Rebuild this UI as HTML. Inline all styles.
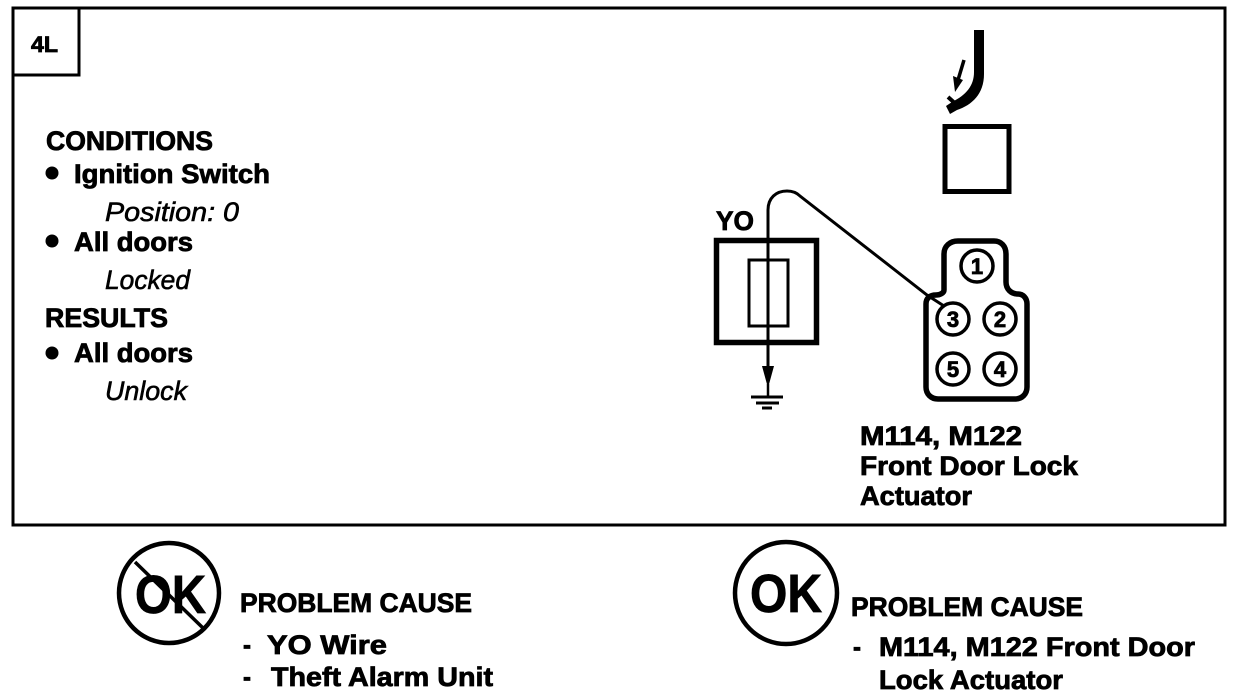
<!DOCTYPE html>
<html><head><meta charset="utf-8"><style>
html,body{margin:0;padding:0;background:#fff;width:1248px;height:696px;overflow:hidden}
svg{display:block}
text{font-family:"Liberation Sans",sans-serif;font-weight:bold;fill:#000;stroke:#000;stroke-width:.8}
.i{font-style:italic;font-weight:normal;stroke-width:.6}
.f{fill:none;stroke:#000}
</style></head><body>
<svg width="1248" height="696" viewBox="0 0 1248 696" xmlns="http://www.w3.org/2000/svg">
<rect width="1248" height="696" fill="#fff"/>
<rect class="f" x="13" y="8" width="1212" height="517" stroke-width="3"/>
<rect class="f" x="13" y="8" width="66" height="67" stroke-width="3"/>
<text x="31" y="52" font-size="22" textLength="27" lengthAdjust="spacingAndGlyphs">4L</text>

<g font-size="27">
<text x="46" y="150" textLength="167" lengthAdjust="spacingAndGlyphs">CONDITIONS</text>
<circle cx="52" cy="173" r="6.500"/>
<text x="74" y="183" textLength="196" lengthAdjust="spacingAndGlyphs">Ignition  Switch</text>
<text class="i" x="105" y="221" textLength="134" lengthAdjust="spacingAndGlyphs">Position: 0</text>
<circle cx="52" cy="241" r="6.500"/>
<text x="74" y="251" textLength="119" lengthAdjust="spacingAndGlyphs">All doors</text>
<text class="i" x="105" y="289" textLength="85" lengthAdjust="spacingAndGlyphs">Locked</text>
<text x="45" y="327" textLength="123" lengthAdjust="spacingAndGlyphs">RESULTS</text>
<circle cx="52" cy="353" r="6.500"/>
<text x="74" y="362" textLength="119" lengthAdjust="spacingAndGlyphs">All doors</text>
<text class="i" x="105" y="400" textLength="82" lengthAdjust="spacingAndGlyphs">Unlock</text>
</g>

<!-- J arrow -->
<path d="M974 30H984V74C984 94 972 105 957 110L950 114L946 106L952 102C966 95 974 86 974 72Z"/>
<path d="M948 97L958 106" class="f" stroke-width="4"/>
<path class="f" d="M964 60L958 80" stroke-width="3.500"/>
<path d="M953 76L963 80L955 92Z"/>
<rect class="f" x="945" y="126.500" width="64" height="65" stroke-width="5"/>

<!-- YO -->
<text x="716" y="230" font-size="27" textLength="38" lengthAdjust="spacingAndGlyphs">YO</text>
<rect class="f" x="716.500" y="240.500" width="100" height="102" stroke-width="5.500"/>
<rect class="f" x="749" y="260" width="39" height="66" stroke-width="3"/>
<path class="f" d="M768 372V210C768 198 776 191 787 191C792 191 796 192 800 196L927 295L944 306" stroke-width="3"/>
<path d="M762 366H774L768 388Z"/>
<path class="f" d="M768 384V397" stroke-width="2.500"/>
<path class="f" d="M751 397H783M756 403H779M762 408H772" stroke-width="3"/>

<!-- connector -->
<path class="f" d="M944 290V254C944 246 950 241 958 241H994C1001 241 1006 246 1006 254V282C1006 289 1011 294 1018 294C1023 294 1027 298 1027 304V387C1027 394 1022 399 1015 399H938C931 399 926 394 926 387V304C926 298 930 295 936 295C940 295 944 293 944 290Z" stroke-width="5.500"/>
<g class="f" stroke-width="3.500" fill="#fff">
<circle cx="977" cy="266" r="16"/>
<circle cx="953" cy="319" r="16"/>
<circle cx="1000" cy="319" r="16"/>
<circle cx="953" cy="369" r="16"/>
<circle cx="1000" cy="369" r="16"/>
</g>
<g font-size="22" text-anchor="middle">
<text x="977" y="274">1</text>
<text x="953" y="327">3</text>
<text x="1000" y="327">2</text>
<text x="953" y="377">5</text>
<text x="1000" y="377">4</text>
</g>

<g font-size="27">
<text x="860" y="445" textLength="162" lengthAdjust="spacingAndGlyphs">M114, M122</text>
<text x="860" y="475" textLength="218" lengthAdjust="spacingAndGlyphs">Front Door Lock</text>
<text x="860" y="505" textLength="112" lengthAdjust="spacingAndGlyphs">Actuator</text>
</g>

<!-- left OK -->
<circle class="f" cx="169" cy="593" r="50" stroke-width="4.500"/>
<text x="135" y="613" font-size="54" textLength="71" lengthAdjust="spacingAndGlyphs">OK</text>
<path class="f" d="M135 562L203 628" stroke-width="3.500"/>
<g font-size="27">
<text x="240" y="612" textLength="232" lengthAdjust="spacingAndGlyphs">PROBLEM CAUSE</text>
<text x="243" y="654" textLength="8" lengthAdjust="spacingAndGlyphs">-</text>
<text x="267" y="654" textLength="120" lengthAdjust="spacingAndGlyphs">YO  Wire</text>
<text x="243" y="686" textLength="8" lengthAdjust="spacingAndGlyphs">-</text>
<text x="271" y="686" textLength="222" lengthAdjust="spacingAndGlyphs">Theft Alarm Unit</text>
</g>

<!-- right OK -->
<circle class="f" cx="786" cy="593" r="51" stroke-width="4.500"/>
<text x="750" y="612" font-size="54" textLength="72" lengthAdjust="spacingAndGlyphs">OK</text>
<g font-size="27">
<text x="851" y="616" textLength="232" lengthAdjust="spacingAndGlyphs">PROBLEM CAUSE</text>
<text x="853" y="656" textLength="8" lengthAdjust="spacingAndGlyphs">-</text>
<text x="879" y="656" textLength="316" lengthAdjust="spacingAndGlyphs">M114, M122 Front Door</text>
<text x="879" y="689" textLength="184" lengthAdjust="spacingAndGlyphs">Lock Actuator</text>
</g>
</svg>
</body></html>
